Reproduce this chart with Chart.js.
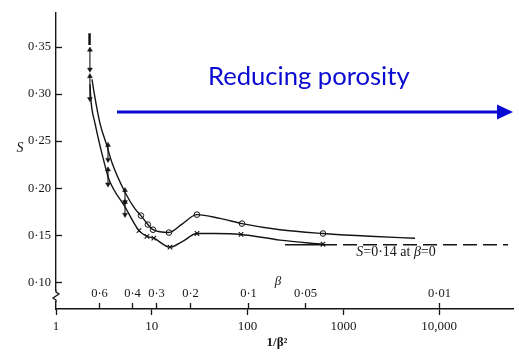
<!DOCTYPE html>
<html>
<head>
<meta charset="utf-8">
<script src="https://cdn.jsdelivr.net/npm/chart.js@4/dist/chart.umd.min.js"></script>
<style>
  html,body{margin:0;padding:0;background:#fff;}
  #wrap{width:519px;height:357px;position:relative;}
</style>
</head>
<body>
<div id="wrap"><canvas id="c" width="519" height="357"></canvas></div>
<script>
// ---- data (x = 1/beta^2, y = S) ----
const upperX = [2.376, 2.493, 2.879, 3.408, 3.842, 5.252, 6.677, 7.7, 9.1, 10.3, 15.1, 20.7, 29.6, 51.5, 87.4, 218, 612, 1895, 5590];
const upperS = [0.3156, 0.3021, 0.2688, 0.2448, 0.2271, 0.1958, 0.1781, 0.171, 0.1615, 0.156, 0.153, 0.162, 0.172, 0.168, 0.1625, 0.156, 0.152, 0.149, 0.147];
const lowerX = [2.264, 2.319, 2.554, 3.247, 3.574, 5.252, 7.35, 8.9, 10.5, 15.5, 21.2, 29.6, 45.7, 85.3, 218, 612];
const lowerS = [0.3104, 0.2927, 0.2688, 0.224, 0.2094, 0.1802, 0.155, 0.149, 0.147, 0.1375, 0.144, 0.152, 0.152, 0.151, 0.145, 0.1406];
const circleX = [7.7, 9.1, 10.3, 15.1, 29.6, 87.4, 612];
const circleS = [0.171, 0.1615, 0.156, 0.153, 0.172, 0.1625, 0.152];
const crossX = [7.35, 8.9, 10.5, 15.5, 29.6, 85.3, 612];
const crossS = [0.155, 0.149, 0.147, 0.1375, 0.152, 0.151, 0.1406];
const arrowX   = [2.26, 2.26, 3.49, 3.49, 5.25, 5.25];
const arrowTop = [0.3469, 0.3188, 0.2458, 0.2198, 0.1979, 0.1854];
const arrowBot = [0.3260, 0.2948, 0.2302, 0.2042, 0.1854, 0.1719];
const topBarX = 2.24;
const topBarS = [0.3646, 0.3521];
const asymX = [246, 612, 52200];
const asymS = 0.14;
const yTicks = [0.10, 0.15, 0.20, 0.25, 0.30, 0.35];
const xTicks = [1, 10, 100, 1000, 10000];
const xTickLabels = ['1', '10', '100', '1000', '10,000'];
const betaTicks = [0.6, 0.4, 0.3, 0.2, 0.1, 0.05, 0.01];
const betaLabels = ['0·6', '0·4', '0·3', '0·2', '0·1', '0·05', '0·01'];

const INK = '#151515';
const BLUE = '#0a0ad2';
const SERIF = '"Liberation Serif", "DejaVu Serif", serif';

function pts(xs, ys) { return xs.map((x, i) => ({x: x, y: Array.isArray(ys) ? ys[i] : ys})); }

const datasets = [
  {data: pts(upperX, upperS), borderColor: INK, borderWidth: 1.4, pointRadius: 0, cubicInterpolationMode: 'monotone'},
  {data: pts(lowerX, lowerS), borderColor: INK, borderWidth: 1.4, pointRadius: 0, cubicInterpolationMode: 'monotone'},
  {data: pts(asymX, asymS), borderColor: INK, borderWidth: 1.4, pointRadius: 0,
   segment: {borderDash: c => c.p0DataIndex === 0 ? [] : [14, 6]}},
  {data: pts(circleX, circleS), showLine: false, pointStyle: 'circle', pointRadius: 2.8,
   pointBackgroundColor: '#fff', pointBorderColor: INK, pointBorderWidth: 1},
  {data: pts(crossX, crossS), showLine: false, pointStyle: 'crossRot', pointRadius: 3.2,
   pointBorderColor: INK, pointBorderWidth: 1.1},
  {data: pts([topBarX, topBarX], topBarS), borderColor: INK, borderWidth: 2.5, pointRadius: 0}
];
for (let i = 0; i < arrowX.length; i++) {
  datasets.push({
    data: [{x: arrowX[i], y: arrowTop[i]}, {x: arrowX[i], y: arrowBot[i]}],
    borderColor: INK, borderWidth: 1.1, pointStyle: 'triangle', pointRadius: 2.8,
    pointBackgroundColor: INK, pointBorderColor: INK, pointBorderWidth: 0.5,
    pointRotation: c => c.dataIndex === 0 ? 0 : 180
  });
}

const extras = {
  id: 'extras',
  afterDraw(chart) {
    const ctx = chart.ctx, xs = chart.scales.x, ys = chart.scales.y, ca = chart.chartArea;
    ctx.save();
    ctx.strokeStyle = INK; ctx.fillStyle = INK; ctx.lineWidth = 1.3;
    // inward y ticks
    yTicks.forEach(v => {
      const py = Math.round(ys.getPixelForValue(v)) + 0.5;
      ctx.beginPath(); ctx.moveTo(ca.left, py); ctx.lineTo(ca.left + 6, py); ctx.stroke();
    });
    // axis break
    const by = ys.getPixelForValue(0.0856);
    ctx.fillStyle = '#fff';
    ctx.fillRect(ca.left - 3, by - 5, 6, 10);
    ctx.beginPath();
    ctx.moveTo(ca.left, by - 6); ctx.lineTo(ca.left, by - 4);
    ctx.lineTo(ca.left + 3, by - 2); ctx.lineTo(ca.left - 3, by + 2);
    ctx.lineTo(ca.left, by + 4); ctx.lineTo(ca.left, by + 6);
    ctx.stroke();
    // beta ticks and labels
    ctx.fillStyle = INK;
    ctx.font = '12.5px ' + SERIF;
    ctx.textAlign = 'center'; ctx.textBaseline = 'middle';
    betaTicks.forEach((b, i) => {
      const px = Math.round(xs.getPixelForValue(1 / (b * b))) + 0.5;
      ctx.beginPath(); ctx.moveTo(px, ca.bottom); ctx.lineTo(px, ca.bottom - 6); ctx.stroke();
      ctx.fillText(betaLabels[i], px, ca.bottom - 15);
    });
    ctx.font = 'italic 13px ' + SERIF;
    ctx.fillText('β', 278, 282);
    // axis titles
    ctx.font = 'italic 14px ' + SERIF;
    ctx.fillText('S', 20, 148);
    ctx.font = 'bold 13px ' + SERIF;
    ctx.fillText('1/β²', 277, 343);
    // asymptote label
    ctx.textAlign = 'left';
    const parts = [['italic 14px ', 'S'], ['14px ', '=0·14 at '], ['italic 14px ', 'β'], ['14px ', '=0']];
    let w = 0;
    parts.forEach(p => { ctx.font = p[0] + SERIF; w += ctx.measureText(p[1]).width; });
    let tx = 396 - w / 2;
    parts.forEach(p => { ctx.font = p[0] + SERIF; ctx.fillText(p[1], tx, 252); tx += ctx.measureText(p[1]).width; });
    // blue arrow annotation
    ctx.strokeStyle = BLUE; ctx.fillStyle = BLUE; ctx.lineWidth = 3;
    ctx.beginPath(); ctx.moveTo(117, 112); ctx.lineTo(500, 112); ctx.stroke();
    ctx.beginPath(); ctx.moveTo(513, 112); ctx.lineTo(497, 104.5); ctx.lineTo(497, 119.5); ctx.closePath(); ctx.fill();
    ctx.font = '25.6px Lato, "Open Sans", sans-serif';
    ctx.textAlign = 'left'; ctx.textBaseline = 'alphabetic';
    ctx.fillText('Reducing porosity', 208, 85);
    ctx.restore();
  }
};

new Chart(document.getElementById('c'), {
  type: 'line',
  data: {datasets: datasets},
  options: {
    responsive: false,
    animation: false,
    events: [],
    layout: {padding: {left: 0, right: 6, top: 7, bottom: 0}},
    plugins: {legend: {display: false}, tooltip: {enabled: false}},
    scales: {
      x: {
        type: 'logarithmic', min: 1, max: 58900,
        afterBuildTicks: s => { s.ticks = xTicks.map(v => ({value: v})); },
        afterFit: s => { s.height = 48; },
        grid: {display: true, drawOnChartArea: false, drawTicks: true, tickLength: 6, tickColor: INK, tickWidth: 1.3},
        border: {display: true, color: INK, width: 1.4},
        ticks: {
          color: INK, padding: 4, maxRotation: 0, autoSkip: false,
          font: {family: SERIF, size: 13},
          callback: (v) => { const i = xTicks.indexOf(v); return i >= 0 ? xTickLabels[i] : ''; }
        }
      },
      y: {
        type: 'linear', min: 0.07188, max: 0.3865,
        afterBuildTicks: s => { s.ticks = yTicks.map(v => ({value: v})); },
        afterFit: s => { s.width = 56; },
        grid: {display: false, drawTicks: false},
        border: {display: true, color: INK, width: 1.4},
        ticks: {
          color: INK, padding: 5,
          font: {family: SERIF, size: 12.5},
          callback: v => v.toFixed(2).replace('.', '·')
        }
      }
    }
  },
  plugins: [extras]
});
</script>
</body>
</html>
